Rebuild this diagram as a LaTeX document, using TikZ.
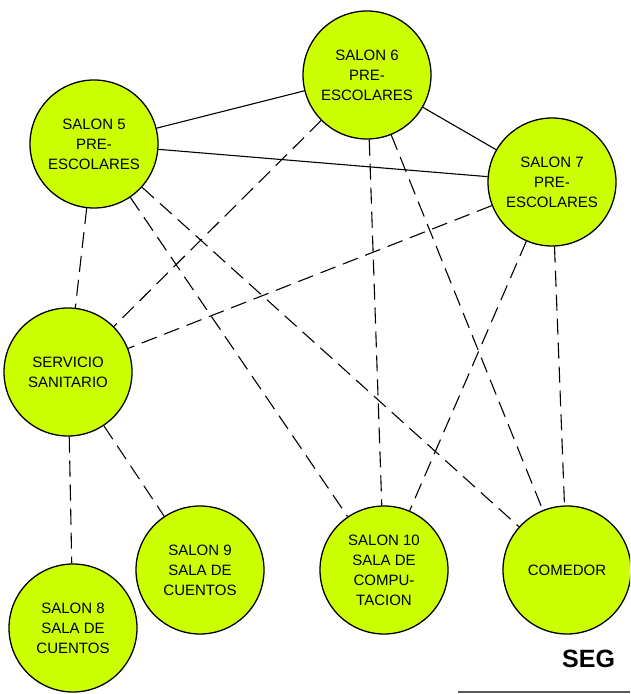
\documentclass[tikz,border=0pt]{standalone}
\usepackage{fontspec}
\setmainfont{Liberation Sans}
\definecolor{lime}{RGB}{204,255,0}
\begin{document}
\begin{tikzpicture}[x=1pt,y=1pt,
  room/.style={circle,draw=black,line width=1.3pt,fill=lime,minimum size=128pt,inner sep=0pt,align=center,font=\fontsize{15}{20}\selectfont},
  solidlink/.style={line width=1.1pt},
  dashlink/.style={line width=1.1pt,dash pattern=on 16pt off 8pt}]
\useasboundingbox (0,0) rectangle (630,694);
\clip (0,0) rectangle (630,694);
\fill[white] (0,0) rectangle (630,694);
\node[room] (s5) at (94,550) {SALON 5\\PRE-\\ESCOLARES};
\node[room] (s6) at (367,619) {SALON 6\\PRE-\\ESCOLARES};
\node[room] (s7) at (552,512) {SALON 7\\PRE-\\ESCOLARES};
\node[room] (ss) at (68,322) {SERVICIO\\SANITARIO};
\node[room] (s9) at (200,124) {SALON 9\\SALA DE\\CUENTOS};
\node[room] (s10) at (384,124) {SALON 10\\SALA DE\\COMPU-\\TACION};
\node[room] (com) at (567,124) {COMEDOR};
\node[room] (s8) at (73,66) {SALON 8\\SALA DE\\CUENTOS};
\begin{scope}[on background layer/.try]
\end{scope}
\draw[solidlink] (s5) -- (s6);
\draw[solidlink] (s5) -- (s7);
\draw[solidlink] (s6) -- (s7);
\draw[dashlink] (s5) -- (ss);
\draw[dashlink] (s5) -- (s10);
\draw[dashlink] (s5) -- (com);
\draw[dashlink] (s6) -- (ss);
\draw[dashlink] (s6) -- (s10);
\draw[dashlink] (s6) -- (com);
\draw[dashlink] (s7) -- (ss);
\draw[dashlink] (s7) -- (s10);
\draw[dashlink] (s7) -- (com);
\draw[dashlink] (ss) -- (s8);
\draw[dashlink] (ss) -- (s9);
\node[anchor=base west,inner sep=0pt,font=\fontsize{25}{30}\selectfont\bfseries] (seg) at (562,26) {SEG};
\draw[gray!70!black,line width=2pt] (458,2) -- (630,2);
\end{tikzpicture}
\end{document}
